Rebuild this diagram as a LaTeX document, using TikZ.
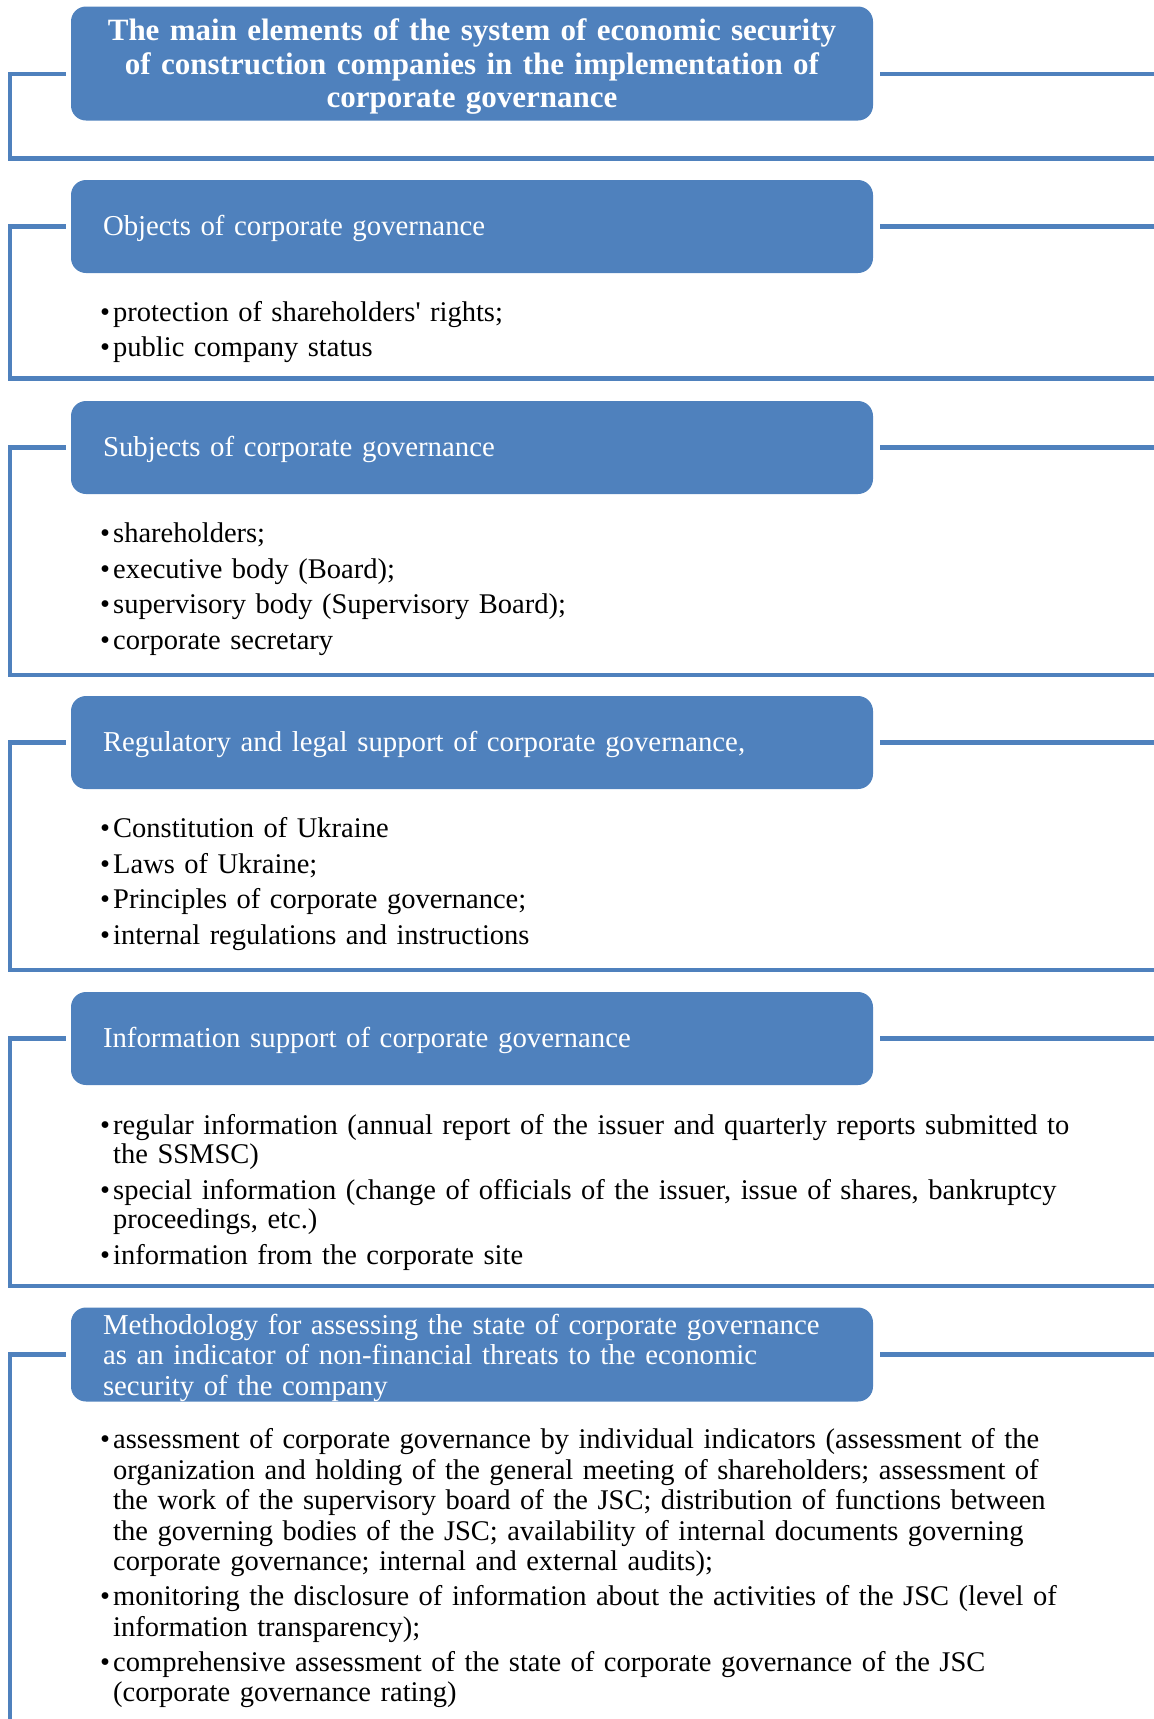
\documentclass[tikz,border=0pt]{standalone}
\usepackage{fontspec}
\setmainfont{Liberation Serif}
\usepackage{tikz}
\usepackage{color}
\definecolor{smartblue}{RGB}{79,129,189}
\newcommand{\itm}{\makebox[13pt][l]{\textbullet}}
\newcommand{\cont}{\hspace*{13pt}}

\begin{document}
\begin{tikzpicture}[x=1pt,y=-1pt,
	box/.style={fill=smartblue, rounded corners=15pt, text=white, inner xsep=32pt, inner ysep=0pt,
		text width=738pt, minimum height=93pt, align=left, text height=24.5pt,
		font=\fontsize{28.8pt}{30.5pt}\selectfont},
	hbox/.style={box, inner xsep=20pt, text width=762pt, align=center, minimum height=114pt,
		text height=28pt, font=\bfseries\fontsize{31pt}{33.4pt}\selectfont},
	items/.style={anchor=base west, inner sep=0pt, text width=1040pt, align=left,
		font=\fontsize{28.5pt}{29.2pt}\selectfont},
	brk/.style={draw=smartblue, line width=4.5pt}]
			\useasboundingbox (0,0) rectangle (1154,1719);
			\node[hbox] (hdr) at (472,63.5) {The main elements of the system of economic security\\
				of construction companies in the implementation of\\ corporate governance};
			\coordinate (hdrmid) at (472,74);
			\coordinate (hdrbl) at (10,158.5);
			\coordinate (hdrbr) at (1154,158.5);
			\draw[brk] ([xshift=-5pt]hdr.west |- hdrmid) -| (hdrbl) -- (hdrbr);
			\draw[brk] ([xshift=7pt]hdr.east |- hdrmid) -- (hdrbr |- hdrmid);

			\node[box] (obj) at (472,226.5) {Objects of corporate governance};
			\node[items] (objl) at (100,321.5) {\itm protection of shareholders\textquotesingle{} rights;\\[6pt]
				\itm public company status};
			\coordinate (objbl) at (10,378.5);
			\coordinate (objbr) at (1154,378.5);
			\draw[brk] ([xshift=-5pt]obj.west) -| (objbl) -- (objbr);
			\draw[brk] ([xshift=7pt]obj.east) -- (objbr |- obj.east);

			\node[box] (subj) at (472,447.5) {Subjects of corporate governance};
			\node[items] (subjl) at (100,542.5) {\itm shareholders;\\[6.3pt]
				\itm executive body (Board);\\[6.3pt]
				\itm supervisory body (Supervisory Board);\\[6.3pt]
				\itm corporate secretary};
			\coordinate (subjbl) at (10,675);
			\coordinate (subjbr) at (1154,675);
			\draw[brk] ([xshift=-5pt]subj.west) -| (subjbl) -- (subjbr);
			\draw[brk] ([xshift=7pt]subj.east) -- (subjbr |- subj.east);

			\node[box] (reg) at (472,742.5) {Regulatory and legal support of corporate governance,};
			\node[items] (regl) at (100,837.5) {\itm Constitution of Ukraine\\[6.5pt]
				\itm Laws of Ukraine;\\[6.5pt]
				\itm Principles of corporate governance;\\[6.5pt]
				\itm internal regulations and instructions};
			\coordinate (regbl) at (10,970);
			\coordinate (regbr) at (1154,970);
			\draw[brk] ([xshift=-5pt]reg.west) -| (regbl) -- (regbr);
			\draw[brk] ([xshift=7pt]reg.east) -- (regbr |- reg.east);

			\node[box] (info) at (472,1038.5) {Information support of corporate governance};
			\node[items] (infol) at (100,1134.5) {\itm regular information (annual report of the issuer and quarterly reports submitted to\\
				\cont the SSMSC)\\[6.6pt]
				\itm special information (change of officials of the issuer, issue of shares, bankruptcy\\
				\cont proceedings, etc.)\\[6.6pt]
				\itm information from the corporate site};
			\coordinate (infobl) at (10,1286);
			\coordinate (infobr) at (1154,1286);
			\draw[brk] ([xshift=-5pt]info.west) -| (infobl) -- (infobr);
			\draw[brk] ([xshift=7pt]info.east) -- (infobr |- info.east);

			\node[box, minimum height=94pt, text height=26.7pt] (meth) at (472,1354.5) {Methodology for assessing the state of corporate governance\\
				as an indicator of non-financial threats to the economic\\ security of the company};
			\node[items, font=\fontsize{28.5pt}{30.5pt}\selectfont] (methl) at (100,1448.5) {\itm assessment of corporate governance by individual indicators (assessment of the\\
				\cont organization and holding of the general meeting of shareholders; assessment of\\
				\cont the work of the supervisory board of the JSC; distribution of functions between\\
				\cont the governing bodies of the JSC; availability of internal documents governing\\
				\cont corporate governance; internal and external audits);\\[4.5pt]
				\itm monitoring the disclosure of information about the activities of the JSC (level of\\
				\cont information transparency);\\[4.5pt]
				\itm comprehensive assessment of the state of corporate governance of the JSC\\
				\cont (corporate governance rating)};
			\coordinate (methbl) at (10,1719);
			\coordinate (methbr) at (1154,1719);
			\draw[brk] ([xshift=-5pt]meth.west) -| (methbl);
			\draw[brk] ([xshift=7pt]meth.east) -- (methbr |- meth.east);
		\end{tikzpicture}
\end{document}
